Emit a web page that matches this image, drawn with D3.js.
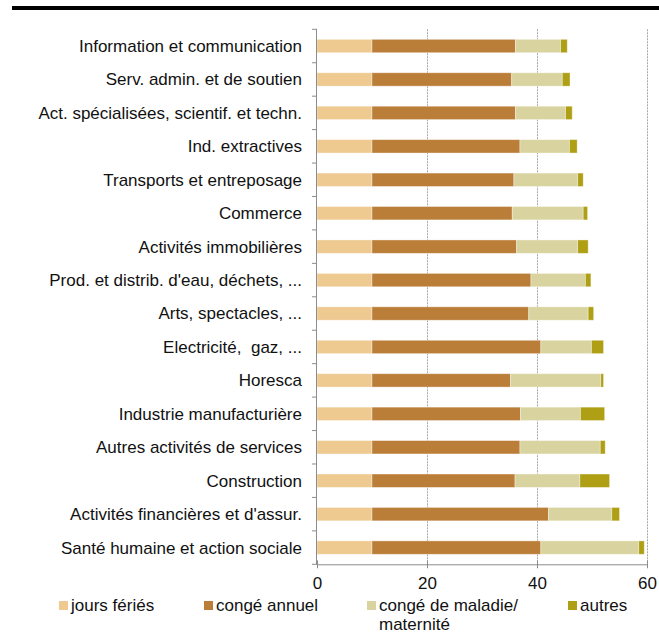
<!DOCTYPE html>
<html>
<head>
<meta charset="utf-8">
<script src="https://cdn.jsdelivr.net/npm/d3@7"></script>
<style>
    body { margin: 0; background: #fff; }
    text { font-family: "Liberation Sans", Arial, sans-serif; }
</style>
</head>
<body>
<div id="chart"></div>
<script>
var sectors = [
    "Information et communication",
    "Serv. admin. et de soutien",
    "Act. spécialisées, scientif. et techn.",
    "Ind. extractives",
    "Transports et entreposage",
    "Commerce",
    "Activités immobilières",
    "Prod. et distrib. d'eau, déchets, ...",
    "Arts, spectacles, ...",
    "Electricité,  gaz, ...",
    "Horesca",
    "Industrie manufacturière",
    "Autres activités de services",
    "Construction",
    "Activités financières et d'assur.",
    "Santé humaine et action sociale"
];

var jours_feries = [10, 10, 10, 10, 10, 10, 10, 10, 10, 10, 10, 10, 10, 10, 10, 10];
var conge_annuel = [26.1, 25.4, 26.1, 26.9, 25.8, 25.5, 26.3, 28.9, 28.5, 30.7, 25.2, 27.0, 26.9, 26.0, 32.1, 30.7];
var conge_maladie = [8.2, 9.2, 9.1, 9.0, 11.6, 12.9, 11.1, 9.9, 10.8, 9.2, 16.4, 10.9, 14.6, 11.8, 11.5, 17.8];
var autres = [1.2, 1.4, 1.2, 1.4, 1.0, 0.8, 1.9, 1.0, 1.0, 2.2, 0.5, 4.4, 0.9, 5.4, 1.4, 1.0];

var series_names = ["jours fériés", "congé annuel", "congé de maladie/\nmaternité", "autres"];
var series_colours = ["#eec990", "#bb7e38", "#d9d49f", "#ae9f15"];
var x_ticks = [0, 20, 40, 60];

function draw_chart() {
    var width = 659, height = 643;
    var plot = { left: 317, right: 647, top: 29.3, bottom: 564.3 };

    var svg = d3.select("#chart")
        .append("svg")
        .attr("width", width)
        .attr("height", height);

    // thick rule on top
    svg.append("rect")
        .attr("x", 12)
        .attr("y", 6)
        .attr("width", width - 12)
        .attr("height", 4)
        .style("fill", "#000");

    var x = d3.scaleLinear()
        .domain([0, 60])
        .range([plot.left, plot.right]);

    var y = d3.scaleBand()
        .domain(sectors)
        .range([plot.top, plot.bottom])
        .paddingInner(0.6)
        .paddingOuter(0.3);

    // dashed gridlines
    svg.append("g")
        .selectAll("line")
        .data(x_ticks.slice(1))
        .enter()
        .append("line")
        .attr("x1", function (d) { return x(d) + 0.5; })
        .attr("x2", function (d) { return x(d) + 0.5; })
        .attr("y1", plot.top)
        .attr("y2", plot.bottom)
        .style("stroke", "#a6a6a6")
        .style("stroke-width", 1)
        .style("stroke-dasharray", "2,1");

    // stacked bars
    var rows = sectors.map(function (s, i) {
        return { sector: s, v: [jours_feries[i], conge_annuel[i], conge_maladie[i], autres[i]] };
    });
    var stack = d3.stack()
        .keys([0, 1, 2, 3])
        .value(function (d, k) { return d.v[k]; });
    var layers = stack(rows);

    svg.append("g")
        .selectAll("g")
        .data(layers)
        .enter()
        .append("g")
        .style("fill", function (d) { return series_colours[d.key]; })
        .selectAll("rect")
        .data(function (d) { return d; })
        .enter()
        .append("rect")
        .attr("x", function (d) { return x(d[0]); })
        .attr("y", function (d) { return y(d.data.sector); })
        .attr("width", function (d) { return x(d[1]) - x(d[0]); })
        .attr("height", y.bandwidth())
        .style("stroke", "rgba(255,255,255,0.45)")
        .style("stroke-width", 0.8);

    // y axis with ticks at band boundaries
    var yaxis = svg.append("g");
    yaxis.append("line")
        .attr("x1", plot.left - 0.5).attr("x2", plot.left - 0.5)
        .attr("y1", plot.top).attr("y2", plot.bottom)
        .style("stroke", "#8c8c8c");
    var bounds = d3.range(sectors.length + 1).map(function (i) {
        return plot.top + i * y.step();
    });
    yaxis.selectAll(".ytick")
        .data(bounds)
        .enter()
        .append("line")
        .attr("class", "ytick")
        .attr("x1", plot.left - 5).attr("x2", plot.left)
        .attr("y1", function (d) { return d; })
        .attr("y2", function (d) { return d; })
        .style("stroke", "#8c8c8c");

    yaxis.selectAll(".ylabel")
        .data(sectors)
        .enter()
        .append("text")
        .attr("class", "ylabel")
        .attr("x", plot.left - 15)
        .attr("y", function (d) { return y(d) + y.bandwidth() / 2; })
        .attr("dy", "0.35em")
        .attr("text-anchor", "end")
        .style("font-size", "17px")
        .style("fill", "#111")
        .style("white-space", "pre")
        .text(function (d) { return d; });

    // x axis
    var xaxis = svg.append("g")
        .attr("transform", "translate(0," + plot.bottom + ")")
        .call(d3.axisBottom(x)
            .tickValues(x_ticks)
            .tickSizeInner(4)
            .tickSizeOuter(0)
            .tickPadding(9));
    xaxis.select(".domain").style("stroke", "#8c8c8c");
    xaxis.selectAll(".tick line")
        .attr("y1", -4)
        .style("stroke", "#8c8c8c");
    xaxis.selectAll(".tick text")
        .style("font-size", "17px")
        .style("font-family", "'Liberation Sans', Arial, sans-serif")
        .style("fill", "#111");

    // legend
    var legend_x = [59, 204, 367, 568];
    var legend = svg.append("g")
        .selectAll("g")
        .data(series_names)
        .enter()
        .append("g")
        .attr("transform", function (d, i) { return "translate(" + legend_x[i] + ",601)"; });
    legend.append("rect")
        .attr("width", 9)
        .attr("height", 9)
        .style("fill", function (d, i) { return series_colours[i]; });
    legend.append("text")
        .attr("y", 4.5)
        .style("font-size", "17px")
        .style("fill", "#111")
        .selectAll("tspan")
        .data(function (d) { return d.split("\n"); })
        .enter()
        .append("tspan")
        .attr("x", 12)
        .attr("dy", function (d, i) { return i == 0 ? "0.35em" : "1.12em"; })
        .text(function (d) { return d; });
}

draw_chart();
</script>
</body>
</html>
